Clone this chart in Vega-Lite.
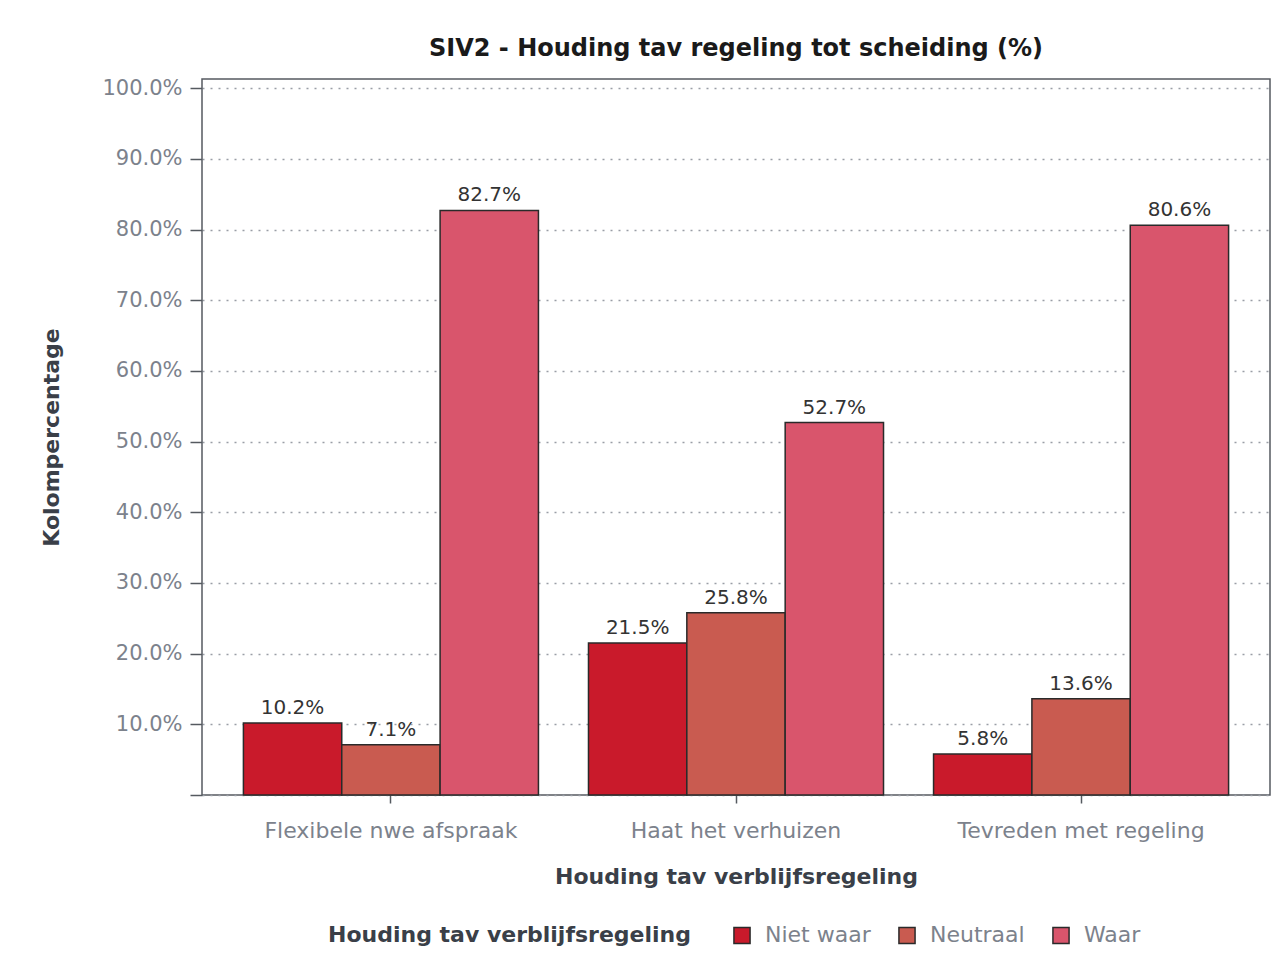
{
  "$schema": "https://vega.github.io/schema/vega-lite/v6.json",
  "width": 1068,
  "height": 716,
  "autosize": {"type": "none"},
  "padding": {"left": 202, "top": 79, "right": 11, "bottom": 166},
  "background": "white",
  "title": {
    "text": "SIV2 - Houding tav regeling tot scheiding (%)",
    "font": "DejaVu Sans",
    "fontSize": 24,
    "fontWeight": "bold",
    "color": "#1a1a1a",
    "anchor": "middle",
    "offset": 16
  },
  "config": {
    "view": {"stroke": "#555a60", "strokeWidth": 1.5},
    "font": "DejaVu Sans"
  },
  "data": {
    "values": [
      {"groep": "Flexibele nwe afspraak", "antwoord": "Niet waar", "pct": 0.102},
      {"groep": "Flexibele nwe afspraak", "antwoord": "Neutraal", "pct": 0.071},
      {"groep": "Flexibele nwe afspraak", "antwoord": "Waar", "pct": 0.827},
      {"groep": "Haat het verhuizen", "antwoord": "Niet waar", "pct": 0.215},
      {"groep": "Haat het verhuizen", "antwoord": "Neutraal", "pct": 0.258},
      {"groep": "Haat het verhuizen", "antwoord": "Waar", "pct": 0.527},
      {"groep": "Tevreden met regeling", "antwoord": "Niet waar", "pct": 0.058},
      {"groep": "Tevreden met regeling", "antwoord": "Neutraal", "pct": 0.136},
      {"groep": "Tevreden met regeling", "antwoord": "Waar", "pct": 0.806}
    ]
  },
  "encoding": {
    "x": {
      "field": "groep",
      "type": "nominal",
      "scale": {"paddingInner": 0.145, "paddingOuter": 0.12},
      "axis": {
        "title": "Houding tav verblijfsregeling",
        "labelAngle": 0,
        "labelLimit": 0,
        "labelFontSize": 22,
        "labelColor": "#7c828c",
        "labelPadding": 17,
        "tickSize": 8,
        "tickColor": "#555a60",
        "tickWidth": 1.5,
        "domain": false,
        "titleFontSize": 22,
        "titleFontWeight": "bold",
        "titleColor": "#3a3f48",
        "titlePadding": 25
      }
    },
    "xOffset": {"field": "antwoord", "type": "nominal", "sort": ["Niet waar", "Neutraal", "Waar"], "scale": {"paddingInner": 0, "paddingOuter": 0}},
    "y": {
      "field": "pct",
      "type": "quantitative",
      "scale": {"domain": [0, 1.013], "nice": false},
      "axis": {
        "title": "Kolompercentage",
        "values": [0, 0.1, 0.2, 0.3, 0.4, 0.5, 0.6, 0.7, 0.8, 0.9, 1.0],
        "labelExpr": "datum.value == 0 ? '' : format(datum.value, '.1%')",
        "labelFontSize": 21,
        "labelColor": "#7c828c",
        "labelPadding": 8,
        "tickSize": 12,
        "tickColor": "#555a60",
        "tickWidth": 1.5,
        "domain": false,
        "grid": true,
        "gridColor": "#9a9ea6",
        "gridDash": [2, 6],
        "gridWidth": 1.5,
        "titleFontSize": 22,
        "titleFontWeight": "bold",
        "titleColor": "#3a3f48",
        "titlePadding": 38
      }
    }
  },
  "layer": [
    {
      "mark": {"type": "bar", "stroke": "#2a2a2a", "strokeWidth": 1.5},
      "encoding": {
        "color": {
          "field": "antwoord",
          "type": "nominal",
          "sort": ["Niet waar", "Neutraal", "Waar"],
          "scale": {"domain": ["Niet waar", "Neutraal", "Waar"], "range": ["#c91a2b", "#c95b50", "#d9556c"]},
          "legend": {
            "title": "Houding tav verblijfsregeling",
            "orient": "none",
            "legendX": 126,
            "legendY": 845,
            "direction": "horizontal",
            "titleOrient": "left",
            "titleFontSize": 22,
            "titleFontWeight": "bold",
            "titleColor": "#3a3f48",
            "titlePadding": 40,
            "titleLimit": 0,
            "labelFontSize": 22,
            "labelColor": "#7c828c",
            "labelOffset": 12,
            "symbolType": "square",
            "symbolSize": 260,
            "symbolStrokeColor": "#2a2a2a",
            "symbolStrokeWidth": 1.5,
            "columnPadding": 24
          }
        }
      }
    },
    {
      "mark": {"type": "text", "baseline": "bottom", "dy": -5, "fontSize": 20, "color": "#333333"},
      "encoding": {
        "text": {"field": "pct", "type": "quantitative", "format": ".1%"}
      }
    }
  ]
}
